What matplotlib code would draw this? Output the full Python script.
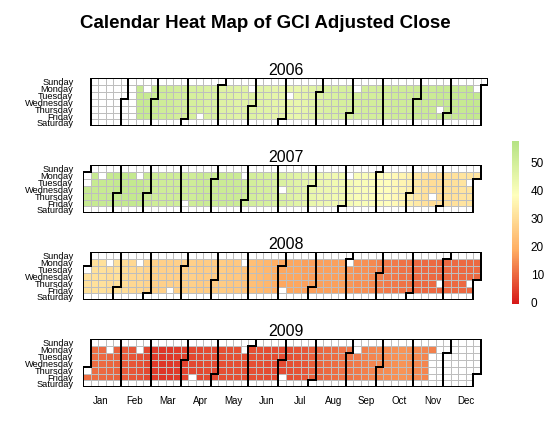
import datetime as dt
import numpy as np
import matplotlib
matplotlib.use("Agg")
import matplotlib.pyplot as plt
from matplotlib.colors import LinearSegmentedColormap, Normalize
from matplotlib.collections import LineCollection
from matplotlib.cm import ScalarMappable

plt.rcParams["font.family"] = ["Liberation Sans", "DejaVu Sans"]

years = [2006, 2007, 2008, 2009]
first_day = dt.date(2006, 2, 13)
last_day = dt.date(2009, 11, 16)

day_names = ["Sunday", "Monday", "Tuesday", "Wednesday", "Thursday", "Friday", "Saturday"]
month_abb = ["Jan", "Feb", "Mar", "Apr", "May", "Jun",
             "Jul", "Aug", "Sep", "Oct", "Nov", "Dec"]

holidays = [
    "2006-01-02", "2006-01-16", "2006-02-20", "2006-04-14", "2006-05-29",
    "2006-07-04", "2006-09-04", "2006-11-23", "2006-12-25",
    "2007-01-01", "2007-01-02", "2007-01-15", "2007-02-19", "2007-04-06",
    "2007-05-28", "2007-07-04", "2007-09-03", "2007-11-22", "2007-12-25",
    "2008-01-01", "2008-01-21", "2008-02-18", "2008-03-21", "2008-05-26",
    "2008-07-04", "2008-09-01", "2008-11-27", "2008-12-25",
    "2009-01-01", "2009-01-19", "2009-02-16", "2009-04-10", "2009-05-25",
    "2009-07-03", "2009-09-07", "2009-11-26", "2009-12-25",
]

# adjusted close, one value per calendar week (week 1 = first column)
weekly_2006 = [None] * 7 + [
    53, 53, 52, 51, 51, 50, 50, 49, 49, 48,
    48, 47, 47, 46, 46, 47, 46, 46, 45, 45,
    44, 44, 45, 46, 47, 48, 48, 49, 49, 49,
    50, 50, 50, 50, 51, 51, 51, 52, 52, 52,
    53, 53, 53, 53, 54, 54] + [None]
weekly_2007 = [
    53, 53, 53, 53, 54, 54, 54, 54, 52, 51,
    51, 51, 51, 51, 51, 52, 52, 52, 52, 52,
    52, 51, 50, 49, 49, 48, 48, 47, 46, 45,
    44, 43, 43, 42, 42, 41, 40, 40, 39, 38,
    38, 37, 36, 35, 33, 31, 30, 30, 31, 31,
    32, 32, 32]
weekly_2008 = [
    31, 31, 31, 30, 31, 30, 29, 29, 28, 27,
    27, 27, 27, 27, 27, 26, 26, 26, 26, 25,
    25, 24, 23, 22, 21, 19, 18, 18, 18, 17,
    17, 17, 17, 17, 17, 16, 15, 15, 14, 13,
    12, 12, 11, 11, 10, 10, 10, 9.5, 10, 10,
    10, 10, 10]
weekly_2009 = [
    10.5, 10.5, 10, 9.5, 9, 8, 7.5, 7, 5.5, 4,
    3.2, 3.5, 4, 5, 5.5, 5.5, 6, 6, 6.5, 6.5,
    6.5, 6.5, 6.5, 6.5, 6, 6, 6, 6.5, 7, 7.5,
    8.5, 9.5, 10, 10.5, 11, 11.5, 12, 13, 13.5, 14,
    14.5, 15, 15.5, 15, 14, 13.5, 13] + [None] * 6
weekly = {2006: weekly_2006, 2007: weekly_2007, 2008: weekly_2008, 2009: weekly_2009}

vmin, vmax = -0.7, 57.9
month_ticks = [2.9 + 4.42 * k for k in range(12)]

cmap = LinearSegmentedColormap.from_list("r2g", ["#D61818", "#FFAE63", "#FFFFBD", "#B5E384"])
cmap.set_over("white")
norm = Normalize(vmin, vmax)
hol = set(dt.date.fromisoformat(h) for h in holidays)

W, H = 551, 430
def px_axes(left, top, width, height):
    return [left / W, 1 - (top + height) / H, width / W, height / H]

fig = plt.figure(figsize=(W / 100, H / 100), dpi=100)
ncol = 55
tops = [78.3, 165.3, 252.3, 339.3]

for i, yr in enumerate(years):
    ax = fig.add_axes(px_axes(83.1, tops[i], 405, 48))
    vals = np.full((7, ncol), np.nan)
    months = np.zeros((7, ncol), dtype=int)
    d = dt.date(yr, 1, 1)
    while d.year == yr:
        col = int(d.strftime("%U")) + 1
        row = int(d.strftime("%w"))
        months[row, col] = d.month
        v = weekly[yr][col - 1]
        trading = row not in (0, 6) and d not in hol and first_day <= d <= last_day
        vals[row, col] = v if (trading and v is not None) else 1e6
        d += dt.timedelta(days=1)
    ax.pcolormesh(np.arange(-0.5, ncol), np.arange(-0.5, 7), np.ma.masked_invalid(vals),
                  cmap=cmap, norm=norm, edgecolors="none", antialiased=False)

    grid, segs = [], []
    nb = lambda rr, cc: months[rr, cc] if 0 <= rr < 7 and 0 <= cc < ncol else 0
    for r in range(7):
        for c in range(ncol):
            m = months[r, c]
            if m == 0:
                continue
            sides = [
                (nb(r, c - 1), [(c - 0.5, r - 0.5), (c - 0.5, r + 0.5)]),
                (nb(r, c + 1), [(c + 0.5, r - 0.5), (c + 0.5, r + 0.5)]),
                (nb(r - 1, c), [(c - 0.5, r - 0.5), (c + 0.5, r - 0.5)]),
                (nb(r + 1, c), [(c - 0.5, r + 0.5), (c + 0.5, r + 0.5)]),
            ]
            for other, seg in sides:
                grid.append(seg)
                if other != m:
                    segs.append(seg)
    ax.add_collection(LineCollection(grid, colors="#BEBEBE", linewidths=0.72, antialiaseds=False))
    ax.add_collection(LineCollection(segs, colors="black", linewidths=1.44,
                                     antialiaseds=False, capstyle="projecting"))

    ax.set_xlim(0.5, 54.5)
    ax.set_ylim(6.5, -0.5)
    for s in ax.spines.values():
        s.set_visible(False)
    ax.set_yticks(range(7))
    ax.set_yticklabels(day_names, fontsize=6.7)
    ax.tick_params(axis="y", length=0, pad=7)
    if i == len(years) - 1:
        ax.set_xticks(month_ticks)
        ax.set_xticklabels(month_abb, fontsize=7)
        ax.tick_params(axis="x", length=0, pad=6)
    else:
        ax.set_xticks([])
    ax.set_title(str(yr), fontsize=11.5, pad=2)

cax = fig.add_axes(px_axes(512.3, 141, 6.7, 163))
cb = fig.colorbar(ScalarMappable(norm=norm, cmap=cmap), cax=cax, ticks=[0, 10, 20, 30, 40, 50])
cb.outline.set_visible(False)
cax.tick_params(length=0, pad=8.4, labelsize=8.5)

fig.text(265 / W, 1 - 28.5 / H, "Calendar Heat Map of GCI Adjusted Close",
         ha="center", va="baseline", fontsize=13.5, fontweight="bold")

fig.savefig("out.png", dpi=100)
